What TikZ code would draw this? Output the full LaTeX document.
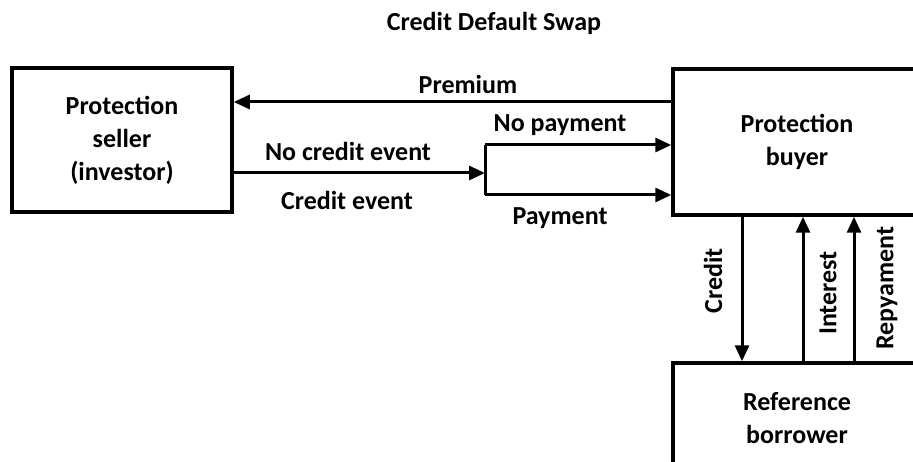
\documentclass[tikz,border=0pt]{standalone}
\usepackage{fontspec}
\setmainfont{Carlito}
\usetikzlibrary{arrows.meta,positioning}
\tikzset{>={Triangle[length=16pt,width=14pt]},
  every node/.style={font=\fontsize{26}{33}\selectfont\bfseries},
  party/.style={draw,line width=3.5pt,align=center,inner sep=0pt},
  flow/.style={line width=3pt,->},edge/.style={line width=3pt}}
\begin{document}
\begin{tikzpicture}[x=1pt,y=-1pt]
\useasboundingbox (0,0) rectangle (913,462);
\clip (0,0) rectangle (913,462);
% Acteurs du contrat et flux entre eux.
\node at (494,23) (title) {Credit Default Swap};
\node[party,minimum width=220pt,minimum height=144pt] at (122,140) (seller) {Protection\\seller\\(investor)};
\node[party,minimum width=248pt,minimum height=146pt] at (797,142) (buyer) {Protection\\buyer};
\node[party,minimum width=248pt,minimum height=110pt] at (797,418) (borrower) {Reference\\borrower};
\coordinate (fork) at (485,173);
\coordinate (nopay) at (485,145);
\coordinate (pay) at (485,195);
\draw[flow] (buyer.west |- 0,102) -- (seller.east |- 0,102);
\draw[flow] (seller.east |- fork) -- (fork);
\draw[edge] (nopay) -- (pay);
\draw[flow] (nopay) -- (buyer.west |- nopay);
\draw[flow] (pay) -- (buyer.west |- pay);
\draw[flow] (buyer.south -| 742,0) -- (borrower.north -| 742,0);
\draw[flow] (borrower.north -| 803,0) -- (buyer.south -| 803,0);
\draw[flow] (borrower.north -| 854,0) -- (buyer.south -| 854,0);
\node at (468,84) (premium) {Premium};
\node at (348,151) (noevent) {No credit event};
\node at (347,200) (event) {Credit event};
\node at (560,125) (nopaylbl) {No payment};
\node at (560,218) (paylbl) {Payment};
\node[rotate=90] at (713,281) (credit) {Credit};
\node[rotate=90] at (828,293) (interest) {Interest};
\node[rotate=90] at (887,288) (repay) {Repyament};
\end{tikzpicture}
\end{document}
